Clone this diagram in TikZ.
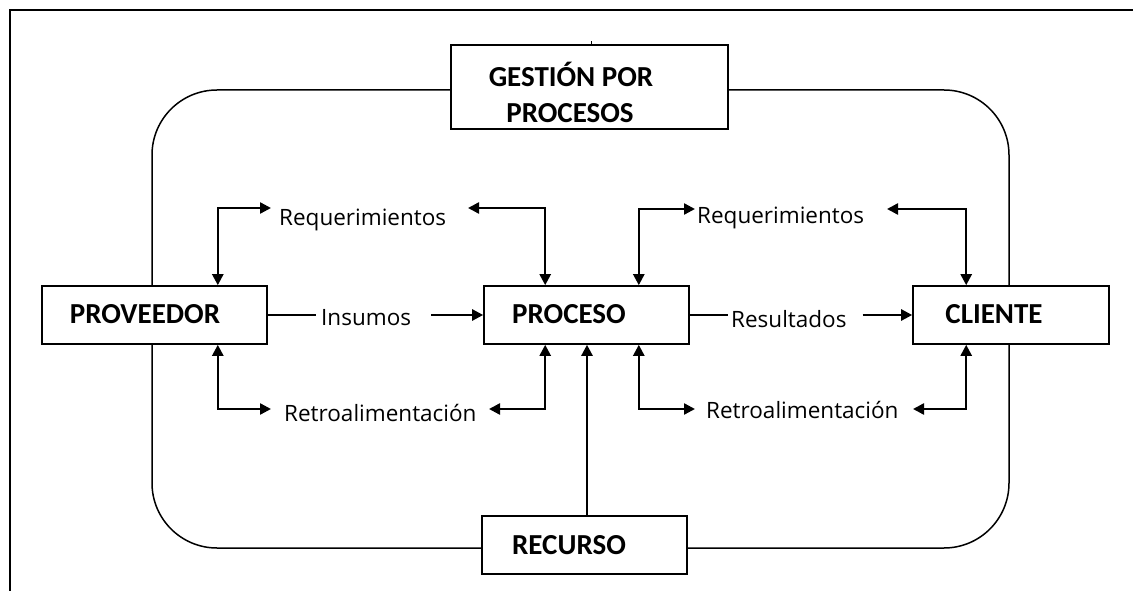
\documentclass[tikz,border=0pt]{standalone}
\usepackage{fontspec}
\setmainfont{Carlito}
\newfontfamily\regfont{Open Sans}
\usetikzlibrary{arrows.meta,calc}
\begin{document}
\begin{tikzpicture}[x=1pt,y=-1pt,
  box/.style={draw,line width=1.6pt,fill=white,inner sep=0pt},
  btxt/.style={font=\fontsize{29}{34}\selectfont\bfseries,inner sep=0pt,anchor=base},
  ltxt/.style={font=\regfont\fontsize{22.5}{27}\selectfont,inner sep=0pt,anchor=base west},
  arr/.style={line width=2.4pt,-{Triangle[length=11pt,width=11pt]}},
  darr/.style={line width=2.4pt,{Triangle[length=11pt,width=11pt]}-{Triangle[length=11pt,width=11pt]}},
  thinl/.style={line width=1.4pt},
  frame/.style={line width=2pt}
]
\useasboundingbox (0,0) rectangle (1133,591);
% outer frame (top and left only)
\draw[frame] (10,591) -- (10,10) -- (1133,10);
% rounded process boundary
\draw[line width=1.5pt,rounded corners=65pt] (152,90) rectangle (1009,548);

% boxes
\node[box,minimum width=277pt,minimum height=84pt] (gest) at (589.5,87) {};
\node[box,minimum width=225pt,minimum height=58pt] (prov) at (154.5,315) {};
\node[box,minimum width=205pt,minimum height=58pt] (proc) at (586.5,315) {};
\node[box,minimum width=196pt,minimum height=58pt] (cli) at (1011,315) {};
\node[box,minimum width=205pt,minimum height=58pt] (rec) at (584.5,545) {};
\draw[line width=1.4pt] (gest.north) ++(2,0) -- ++(0,-3);

% box texts
\node[btxt] (gest1) at (571,87) {GESTIÓN POR};
\node[btxt] (gest2) at (570,123) {PROCESOS};
\node[btxt] (provt) at (145,323) {PROVEEDOR};
\node[btxt] (proct) at (569,323) {PROCESO};
\node[btxt] (clit) at (994,323) {CLIENTE};
\node[btxt] (rect) at (569,554) {RECURSO};

% labels
\node[ltxt] (req1) at (279,225) {Requerimientos};
\node[ltxt] (req2) at (697,223) {Requerimientos};
\node[ltxt] (ins) at (321,325) {Insumos};
\node[ltxt] (res) at (731,327) {Resultados};
\node[ltxt] (ret1) at (284,421) {Retroalimentación};
\node[ltxt] (ret2) at (706,418) {Retroalimentación};

% arrow tip coordinates
\coordinate (r1a) at (271,208);
\coordinate (r1b) at (468,208);
\coordinate (r2a) at (695,209);
\coordinate (r2b) at (887,209);
\coordinate (t1a) at (271,409);
\coordinate (t1b) at (489,409);
\coordinate (t2a) at (695,409);
\coordinate (t2b) at (913,409);

% requerimientos
\draw[darr] (r1a) -| ($(prov.north east)+(-50,0)$);
\draw[darr] (r1b) -| ($(proc.north west)+(62,0)$);
\draw[darr] (r2a) -| ($(proc.north east)+(-51,0)$);
\draw[darr] (r2b) -| ($(cli.north west)+(54,0)$);

% retroalimentacion
\draw[darr] (t1a) -| ($(prov.south east)+(-50,0)$);
\draw[darr] (t1b) -| ($(proc.south west)+(62,0)$);
\draw[darr] (t2a) -| ($(proc.south east)+(-51,0)$);
\draw[darr] (t2b) -| ($(cli.south west)+(54,0)$);

% insumos / resultados
\draw[thinl] (prov.east) -- ($(prov.east -| ins.west)+(-5,0)$);
\draw[arr] ($(proc.west -| ins.east)+(20,0)$) -- (proc.west);
\draw[thinl] (proc.east) -- ($(proc.east -| res.west)+(-3,0)$);
\draw[arr] ($(cli.west -| res.east)+(16,0)$) -- (cli.west);

% recurso
\draw[arr] ($(rec.north)+(2.5,0)$) -- ($(proc.south)+(0.5,0)$);
\end{tikzpicture}
\end{document}
